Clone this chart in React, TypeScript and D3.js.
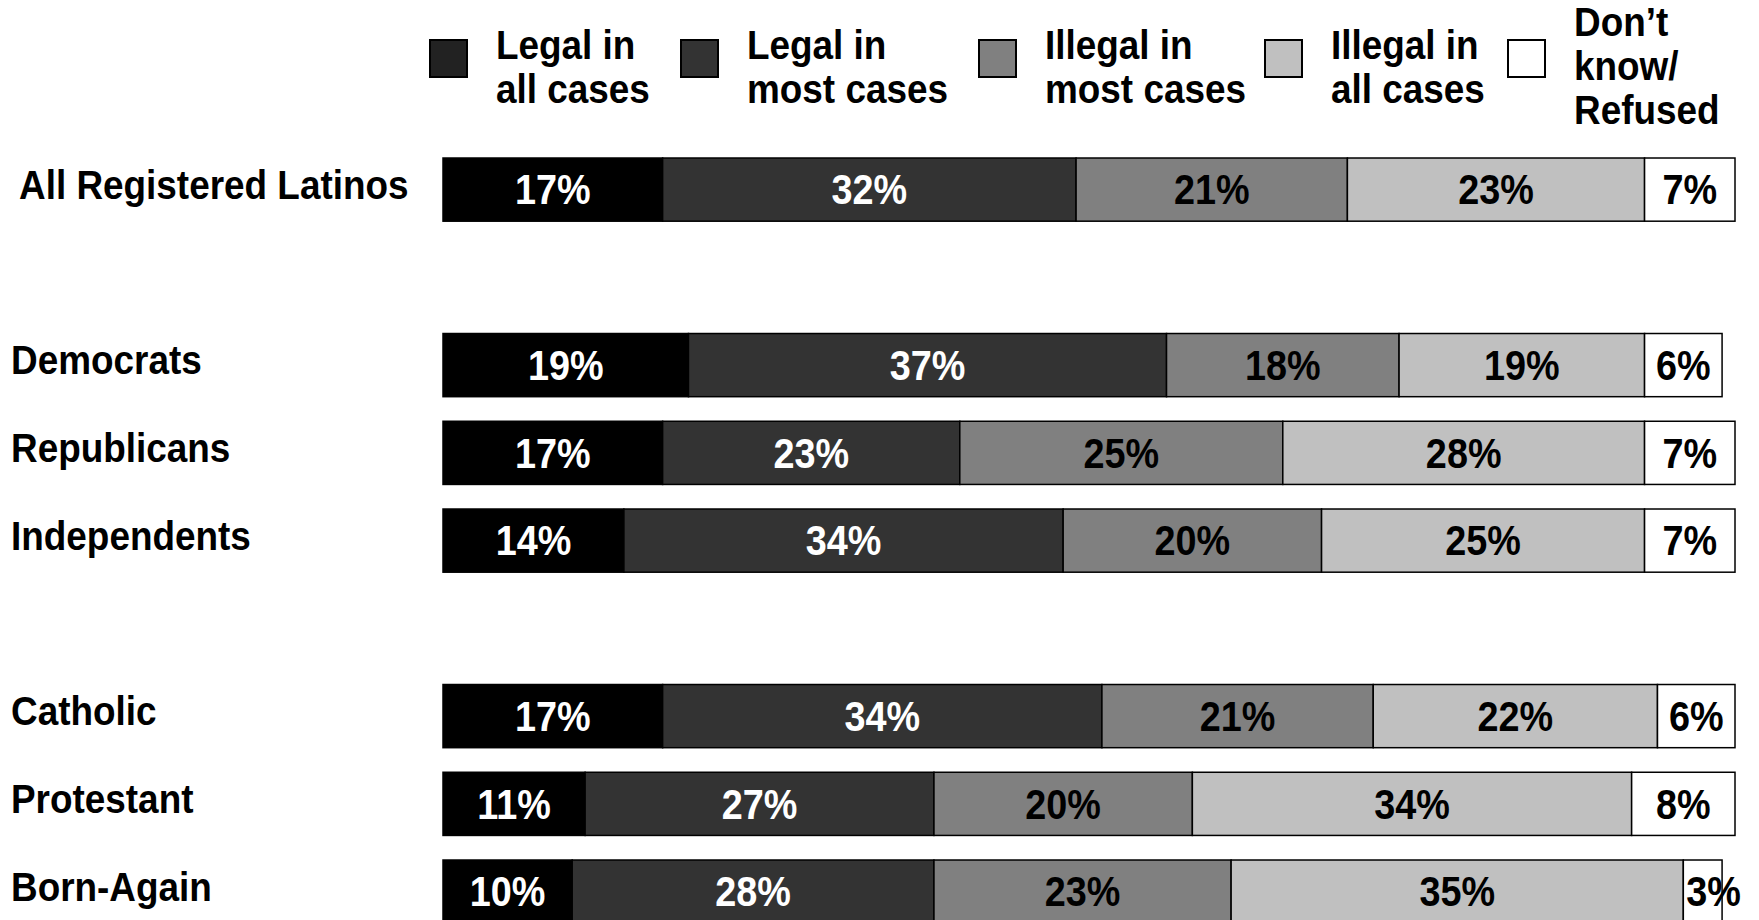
import React from "react";
import * as d3 from "d3";

const rows = ["All Registered Latinos", "", "Democrats", "Republicans", "Independents", " ", "Catholic", "Protestant", "Born-Again"];
const seriesNames = ["Legal in all cases", "Legal in most cases", "Illegal in most cases", "Illegal in all cases", "Don't know/Refused"];
const legendLines = [["Legal in", "all cases"], ["Legal in", "most cases"], ["Illegal in", "most cases"], ["Illegal in", "all cases"], ["Don\u2019t", "know/", "Refused"]];
const legalAll = [17, null, 19, 17, 14, null, 17, 11, 10];
const legalMost = [32, null, 37, 23, 34, null, 34, 27, 28];
const illegalMost = [21, null, 18, 25, 20, null, 21, 20, 23];
const illegalAll = [23, null, 19, 28, 25, null, 22, 34, 35];
const dontKnow = [7, null, 6, 7, 7, null, 6, 8, 3];

const barColors = ["#000000", "#333333", "#808080", "#c0c0c0", "#ffffff"];
const legendColors = ["#222222", "#333333", "#808080", "#c0c0c0", "#ffffff"];
const textColors = ["#ffffff", "#ffffff", "#000000", "#000000", "#000000"];

const W = 1759;
const H = 920;
const FONT = "'Liberation Sans', Arial, Helvetica, sans-serif";
const SX = 0.9;

function T({ x, y, size, anchor, fill, children }: any) {
  return (
    <text transform={`translate(${x},${y}) scale(${SX},1)`} dy="0.35em" fontSize={size} textAnchor={anchor || "start"} fill={fill || "#000"}>
      {children}
    </text>
  );
}

export default function App() {
  const series = [legalAll, legalMost, illegalMost, illegalAll, dontKnow];
  const x = d3.scaleLinear().domain([0, 100]).range([443, 1735]);
  const y = d3.scalePoint<string>().domain(rows).range([189.6, 891.6]);
  const step = y.step();
  const barH = step * 0.72;

  const legendX = [430, 681, 979, 1265, 1508];
  const legendSq = 37;
  const labelSize = 41;
  const pctSize = 42;

  return (
    <svg width={W} height={H} style={{ position: "absolute", left: 0, top: 0, display: "block", background: "#fff" }} fontFamily={FONT} fontWeight="bold">
      {seriesNames.map((name, i) => {
        const lines = legendLines[i];
        const lh = 44;
        const yTop = lines.length === 3 ? 22 : 45;
        return (
          <g key={name}>
            <rect x={legendX[i]} y={40} width={legendSq} height={legendSq} fill={legendColors[i]} stroke="#000" strokeWidth={2} />
            {lines.map((ln, j) => (
              <T key={j} x={legendX[i] + 66} y={yTop + j * lh} size={labelSize}>{ln}</T>
            ))}
          </g>
        );
      })}
      {rows.map((r, ri) => {
        if (legalAll[ri] == null) return null;
        const cy = y(r) as number;
        let acc = 0;
        return (
          <g key={r}>
            <T x={ri === 0 ? 19 : 11} y={cy - 5} size={labelSize}>{r}</T>
            {series.map((s, si) => {
              const v = s[ri] as number;
              const x0 = x(acc);
              const x1 = x(acc + v);
              acc += v;
              const narrow = x1 - x0 < 50;
              return (
                <g key={si}>
                  <rect x={x0} y={cy - barH / 2} width={x1 - x0} height={barH} fill={barColors[si]} stroke="#000" strokeWidth={1.5} />
                  <T x={narrow ? x0 + 3 : (x0 + x1) / 2} y={cy} size={pctSize} anchor={narrow ? "start" : "middle"} fill={textColors[si]}>{`${v}%`}</T>
                </g>
              );
            })}
          </g>
        );
      })}
    </svg>
  );
}
